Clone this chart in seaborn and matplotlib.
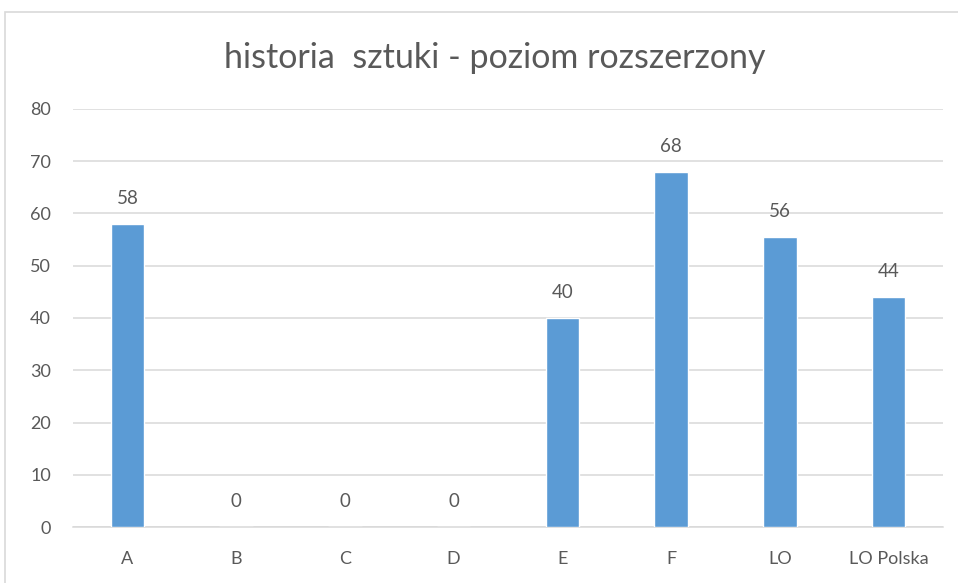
import matplotlib
matplotlib.use("Agg")
import matplotlib.pyplot as plt
import seaborn as sns
import pandas as pd
from matplotlib.patches import Rectangle

categories = ["A", "B", "C", "D", "E", "F", "LO", "LO Polska"]
values = [58, 0, 0, 0, 40, 68, 55.5, 44]
labels = ["58", "0", "0", "0", "40", "68", "56", "44"]
yticks = [0, 10, 20, 30, 40, 50, 60, 70, 80]
title = "historia  sztuki - poziom rozszerzony"

sns.set_theme(style="white")
plt.rcParams['font.family'] = ['Lato', 'DejaVu Sans']

text_color = "#595959"
grid_color = "#D9D9D9"
bar_color = "#5B9BD5"

df = pd.DataFrame({"cat": categories, "val": values})

fig = plt.figure(figsize=(9.58, 5.83), dpi=100)
fig.patch.set_facecolor("white")
fig.patches.append(Rectangle((5/958, -0.05), 1.1, 1 - 12/583 + 0.05,
                             transform=fig.transFigure, fill=False,
                             edgecolor=grid_color, linewidth=1.2))

ax = fig.add_axes([73/958, 1 - 527/583, 870/958, 418/583])
sns.barplot(data=df, x="cat", y="val", color=bar_color, width=0.31,
            saturation=1, ax=ax, zorder=3)

ax.set_ylim(0, 80)
ax.set_yticks(yticks)
ax.set_xlim(-0.5, len(categories) - 0.5)
ax.yaxis.grid(True, color=grid_color, linewidth=1.1, zorder=0)
ax.set_axisbelow(True)
for s in ["top", "right", "left"]:
    ax.spines[s].set_visible(False)
ax.spines["bottom"].set_color(grid_color)
ax.spines["bottom"].set_linewidth(1.1)
ax.set_xlabel("")
ax.set_ylabel("")
ax.tick_params(axis="both", length=0, labelsize=13, colors=text_color)
ax.tick_params(axis="x", pad=17)
ax.tick_params(axis="y", pad=16)

for i, (v, lab) in enumerate(zip(values, labels)):
    ax.annotate(lab, (i, v), xytext=(0, 12), textcoords="offset points",
                ha="center", va="bottom", fontsize=13.5, color=text_color)

fig.text(0.516, 0.9, title, ha="center", va="center", fontsize=24.5,
         color=text_color)

fig.savefig("out.png", dpi=100, facecolor="white")
